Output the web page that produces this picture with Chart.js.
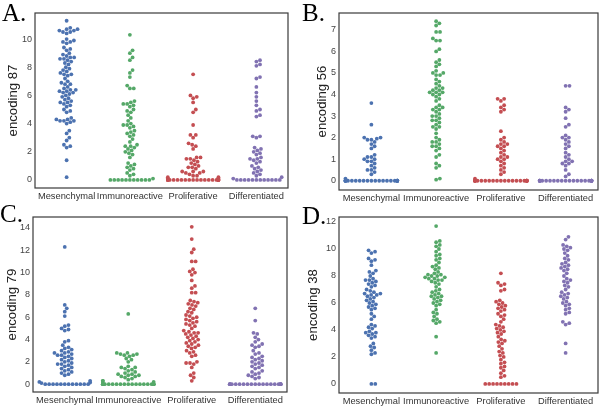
<!DOCTYPE html>
<html>
<head>
<meta charset="utf-8">
<script src="https://cdn.jsdelivr.net/npm/chart.js@4.4.0/dist/chart.umd.min.js"></script>
<style>
  body { margin: 0; background: #fff; width: 600px; height: 407px; position: relative; overflow: hidden; }
  canvas { position: absolute; }
  .tag { position: absolute; z-index: 2; font-family: "Liberation Serif", "DejaVu Serif", serif; font-size: 25px; line-height: 25px; color: #000; }
</style>
</head>
<body>
<canvas id="cA" width="300" height="204" style="left:0px;top:0px"></canvas>
<canvas id="cB" width="300" height="204" style="left:300px;top:0px"></canvas>
<canvas id="cC" width="300" height="203" style="left:0px;top:204px"></canvas>
<canvas id="cD" width="300" height="203" style="left:300px;top:204px"></canvas>
<div class="tag" style="left:2px;top:0px">A.</div>
<div class="tag" style="left:302px;top:0px">B.</div>
<div class="tag" style="left:0px;top:201px">C.</div>
<div class="tag" style="left:302px;top:203px">D.</div>
<script>
"use strict"

const categories = ["Mesenchymal", "Immunoreactive", "Proliferative", "Differentiated"]
const colors = ["#4c72b0", "#55a868", "#c44e52", "#8172b2"]

// panel A - encoding 87
const aMes = [11.3, 10.8, 10.7, 10.7, 10.6, 10.6, 10.5, 10.5, 10.4, 10.0, 9.9, 9.8, 9.8, 9.7, 9.4, 9.3, 9.2, 9.0, 8.9, 8.8, 8.7, 8.7, 8.6, 8.6, 8.5, 8.4, 8.3, 8.2, 8.0, 7.9, 7.8, 7.7, 7.6, 7.5, 7.5, 7.4, 7.2, 7.0, 6.9, 6.8, 6.8, 6.6, 6.5, 6.4, 6.4, 6.3, 6.3, 6.2, 6.2, 6.1, 6.0, 5.9, 5.8, 5.7, 5.6, 5.5, 5.5, 5.4, 5.3, 5.2, 5.0, 4.9, 4.8, 4.4, 4.3, 4.3, 4.2, 4.2, 4.2, 4.1, 4.0, 3.5, 3.3, 3.0, 2.8, 2.5, 2.4, 2.3, 1.4, 0.2]
const aImm = [10.3, 9.2, 9.0, 8.7, 8.5, 7.8, 7.6, 7.3, 6.7, 6.5, 6.5, 5.6, 5.5, 5.4, 5.4, 5.3, 5.2, 5.0, 4.9, 4.8, 4.6, 4.4, 4.2, 4.0, 3.9, 3.9, 3.8, 3.7, 3.5, 3.4, 3.3, 3.2, 3.1, 2.9, 2.7, 2.5, 2.4, 2.4, 2.3, 2.2, 2.1, 2.0, 1.9, 1.8, 1.6, 1.2, 1.1, 1.0, 0.9, 0.8, 0.7, 0.5, 0.4, 0.3, 0.1, 0, 0, 0, 0, 0, 0, 0, 0, 0, 0, 0]
const aPro = [7.5, 6.0, 5.9, 5.8, 5.5, 5.0, 4.8, 3.9, 3.2, 3.2, 3.0, 2.6, 2.5, 2.4, 2.2, 1.6, 1.6, 1.5, 1.5, 1.4, 1.3, 1.2, 1.1, 1.0, 0.9, 0.9, 0.8, 0.6, 0.6, 0.6, 0.5, 0.5, 0.4, 0.3, 0.3, 0.2, 0.2, 0.1, 0.1, 0, 0, 0, 0, 0, 0, 0, 0, 0, 0, 0, 0, 0, 0, 0, 0, 0, 0, 0, 0]
const aDif = [8.5, 8.4, 8.2, 8.1, 7.3, 7.2, 6.6, 6.2, 5.9, 5.6, 5.3, 5.0, 4.9, 4.6, 4.5, 3.1, 3.1, 3.0, 2.3, 2.2, 2.1, 2.0, 1.9, 1.8, 1.6, 1.5, 1.5, 1.4, 1.3, 1.2, 1.0, 0.9, 0.8, 0.7, 0.6, 0.5, 0.4, 0.3, 0.2, 0.1, 0, 0, 0, 0, 0, 0, 0, 0, 0, 0, 0, 0]
const aTicks = [0, 2, 4, 6, 8, 10]

// panel B - encoding 56
const bMes = [3.6, 2.6, 2.0, 2.0, 1.95, 1.9, 1.9, 1.8, 1.7, 1.6, 1.5, 1.2, 1.1, 1.1, 1.0, 1.0, 0.9, 0.9, 0.8, 0.7, 0.6, 0.5, 0.5, 0.4, 0.3, 0.1, 0, 0, 0, 0, 0, 0, 0, 0, 0, 0, 0, 0, 0, 0, 0, 0, 0, 0, 0, 0, 0, 0]
const bImm = [7.4, 7.3, 7.2, 6.9, 6.9, 6.6, 6.5, 6.5, 6.1, 6.0, 5.6, 5.5, 5.4, 5.3, 5.1, 5.0, 5.0, 4.9, 4.9, 4.7, 4.6, 4.5, 4.4, 4.3, 4.3, 4.2, 4.2, 4.1, 4.1, 4.1, 4.0, 4.0, 3.9, 3.8, 3.7, 3.5, 3.4, 3.4, 3.3, 3.3, 3.2, 3.1, 3.0, 3.0, 2.9, 2.8, 2.8, 2.7, 2.6, 2.5, 2.5, 2.4, 2.2, 2.0, 1.9, 1.8, 1.8, 1.7, 1.6, 1.6, 1.5, 1.4, 1.2, 1.1, 0.8, 0.7, 0.6, 0.1, 0.05]
const bPro = [3.8, 3.8, 3.7, 3.5, 3.4, 3.3, 3.2, 2.3, 2.0, 1.9, 1.8, 1.7, 1.7, 1.6, 1.6, 1.5, 1.4, 1.3, 1.2, 1.1, 1.1, 1.0, 1.0, 0.9, 0.8, 0.7, 0.6, 0.5, 0.4, 0.3, 0.1, 0, 0, 0, 0, 0, 0, 0, 0, 0, 0, 0, 0, 0, 0, 0, 0, 0, 0, 0, 0, 0, 0]
const bDif = [4.4, 4.4, 3.4, 3.3, 3.2, 2.9, 2.6, 2.5, 2.1, 2.0, 2.0, 1.9, 1.8, 1.7, 1.6, 1.5, 1.3, 1.2, 1.1, 1.0, 0.9, 0.9, 0.8, 0.8, 0.7, 0.5, 0.3, 0.2, 0, 0, 0, 0, 0, 0, 0, 0, 0, 0, 0, 0, 0, 0, 0, 0, 0, 0, 0, 0, 0, 0]
const bTicks = [0, 1, 2, 3, 4, 5, 6, 7]

// panel C - encoding 79
const cMes = [12.3, 7.1, 6.8, 6.5, 6.1, 5.3, 5.2, 5.0, 4.9, 4.8, 3.9, 3.8, 3.5, 3.3, 3.2, 3.1, 3.0, 2.9, 2.8, 2.8, 2.7, 2.6, 2.6, 2.5, 2.4, 2.3, 2.2, 2.1, 2.0, 1.9, 1.8, 1.8, 1.7, 1.6, 1.5, 1.4, 1.3, 1.2, 1.1, 1.0, 0.9, 0.8, 0.3, 0.2, 0.15, 0.1, 0, 0, 0, 0, 0, 0, 0, 0, 0, 0, 0, 0]
const cImm = [6.3, 2.8, 2.8, 2.7, 2.7, 2.6, 2.6, 2.5, 2.3, 2.2, 2.0, 1.6, 1.5, 1.5, 1.4, 1.3, 1.2, 1.1, 1.0, 0.9, 0.9, 0.8, 0.8, 0.7, 0.7, 0.6, 0.5, 0.4, 0.3, 0.3, 0.2, 0.1, 0, 0, 0, 0, 0, 0, 0, 0, 0, 0, 0, 0, 0, 0, 0, 0, 0, 0, 0, 0]
const cPro = [14.1, 13.0, 12.1, 11.8, 11.0, 11.0, 10.3, 10.1, 10.0, 9.8, 9.3, 8.8, 8.6, 8.2, 8.2, 7.5, 7.4, 7.3, 7.2, 7.1, 7.0, 6.8, 6.7, 6.5, 6.4, 6.2, 6.1, 6.0, 5.9, 5.8, 5.7, 5.6, 5.5, 5.4, 5.3, 5.2, 5.0, 4.8, 4.7, 4.6, 4.6, 4.5, 4.4, 4.3, 4.2, 4.1, 4.0, 3.9, 3.8, 3.7, 3.6, 3.5, 3.4, 3.3, 3.2, 3.0, 2.9, 2.8, 2.6, 2.5, 2.0, 1.9, 1.9, 1.8, 1.5, 1.0, 0.8, 0.6, 0.3]
const cDif = [6.8, 5.7, 4.6, 4.5, 4.2, 4.0, 3.8, 3.6, 3.5, 3.4, 3.3, 3.0, 2.8, 2.7, 2.5, 2.4, 2.3, 2.2, 2.1, 2.0, 1.9, 1.8, 1.7, 1.6, 1.5, 1.4, 1.2, 1.1, 1.0, 0.9, 0.8, 0.7, 0.6, 0.5, 0, 0, 0, 0, 0, 0, 0, 0, 0, 0, 0, 0, 0, 0, 0, 0, 0, 0, 0, 0]
const cTicks = [0, 2, 4, 6, 8, 10, 12, 14]

// panel D - encoding 38
const dMes = [9.9, 9.8, 9.7, 9.3, 9.2, 9.1, 8.8, 8.4, 8.3, 8.2, 8.0, 7.8, 7.7, 7.7, 7.6, 7.5, 7.4, 7.3, 7.2, 7.0, 6.9, 6.8, 6.7, 6.7, 6.6, 6.6, 6.5, 6.4, 6.3, 6.2, 6.1, 6.0, 5.9, 5.8, 5.7, 5.6, 5.5, 5.2, 5.0, 4.8, 4.4, 4.3, 4.2, 4.1, 3.9, 3.8, 3.8, 3.7, 3.6, 3.5, 3.4, 3.0, 2.8, 2.7, 2.5, 2.3, 2.2, 0, 0]
const dImm = [11.7, 10.6, 10.5, 10.3, 10.2, 10.0, 9.8, 9.6, 9.5, 9.3, 9.2, 9.0, 8.8, 8.7, 8.6, 8.5, 8.3, 8.2, 8.1, 8.1, 8.0, 8.0, 7.9, 7.9, 7.8, 7.8, 7.7, 7.7, 7.6, 7.5, 7.4, 7.2, 7.0, 6.9, 6.8, 6.7, 6.6, 6.5, 6.5, 6.4, 6.3, 6.2, 6.1, 6.0, 5.9, 5.8, 5.5, 5.3, 5.2, 5.0, 4.8, 4.7, 4.6, 4.5, 3.5, 2.3]
const dPro = [8.2, 7.5, 7.4, 7.3, 7.0, 6.9, 6.2, 6.1, 6.0, 5.9, 5.8, 5.7, 5.6, 5.5, 5.4, 5.2, 5.1, 5.0, 4.8, 4.6, 4.4, 4.3, 4.2, 4.1, 4.0, 3.9, 3.8, 3.7, 3.5, 3.3, 3.2, 3.1, 3.0, 2.8, 2.6, 2.4, 2.3, 2.1, 2.0, 1.8, 1.6, 1.5, 1.3, 1.2, 1.0, 0.8, 0.6, 0.5, 0, 0, 0, 0, 0, 0, 0, 0, 0]
const dDif = [10.9, 10.7, 10.3, 10.2, 10.1, 10.0, 9.9, 9.7, 9.5, 9.3, 9.2, 9.0, 8.9, 8.8, 8.7, 8.6, 8.5, 8.4, 8.2, 8.0, 7.8, 7.7, 7.6, 7.5, 7.3, 7.2, 7.0, 6.8, 6.7, 6.6, 6.5, 6.4, 6.3, 6.1, 6.0, 5.9, 5.8, 5.6, 5.5, 5.3, 5.2, 4.6, 4.5, 4.4, 3.0, 2.3]
const dTicks = [0, 2, 4, 6, 8, 10, 12]

const DOT = 1.9      // point radius
const GAP = 3.9      // distance between swarm centres

// pixel box of each panel: y axis width, right pad, top pad, x axis height
const panels = [
    {id: "cA", title: "encoding 87", groups: [aMes, aImm, aPro, aDif], ticks: aTicks, min: -0.57, max: 11.85, yW: 35, padR: 12, padT: 13, xH: 16, tPad: 5},
    {id: "cB", title: "encoding 56", groups: [bMes, bImm, bPro, bDif], ticks: bTicks, min: -0.43, max: 7.78, yW: 39, padR: 2, padT: 13, xH: 14, tPad: 14},
    {id: "cC", title: "encoding 79", groups: [cMes, cImm, cPro, cDif], ticks: cTicks, min: -0.7, max: 14.98, yW: 33, padR: 13, padT: 13, xH: 15, tPad: 4.5},
    {id: "cD", title: "encoding 38", groups: [dMes, dImm, dPro, dDif], ticks: dTicks, min: -0.67, max: 12.37, yW: 39, padR: 2, padT: 13, xH: 14, tPad: 5},
]

// beeswarm: place lowest values first, nearest free slot to the centre
function swarm(py, d){
    const order = py.map((y, i) => i).sort((a, b) => py[b] - py[a])
    const placed = []
    const out = new Array(py.length)
    for (const i of order){
        const y = py[i]
        const near = placed.filter(p => Math.abs(p.y - y) < d)
        const cands = [0]
        for (const p of near){
            const dx = Math.sqrt(d * d - (p.y - y) * (p.y - y))
            cands.push(p.x + dx, p.x - dx)
        }
        cands.sort((a, b) => Math.abs(a) - Math.abs(b))
        let x = cands.find(c => near.every(p => (p.x - c) * (p.x - c) + (p.y - y) * (p.y - y) >= d * d - 0.01))
        if (x === undefined) x = 0
        placed.push({x: x, y: y})
        out[i] = x
    }
    return out
}

const framePlugin = {
    id: "frame",
    beforeDatasetsDraw(chart){
        const a = chart.chartArea
        const ctx = chart.ctx
        ctx.save()
        ctx.strokeStyle = "#3a3a3a"
        ctx.lineWidth = 1.2
        ctx.strokeRect(a.left, a.top, a.right - a.left, a.bottom - a.top)
        ctx.restore()
    }
}

function makePanel(p){
    const datasets = p.groups.map((g, k) => ({
        data: g.map(v => ({x: k, y: v})),
        backgroundColor: colors[k],
        borderWidth: 0,
        pointRadius: DOT,
        pointHoverRadius: DOT,
    }))
    const config = {
        type: "scatter",
        data: {datasets: datasets},
        options: {
            responsive: false,
            animation: false,
            layout: {padding: {top: p.padT, right: p.padR, left: 0, bottom: 0}},
            plugins: {legend: {display: false}, tooltip: {enabled: false}},
            scales: {
                x: {
                    type: "linear", min: -0.5, max: 3.5,
                    grid: {display: false, drawTicks: false},
                    border: {display: false},
                    afterBuildTicks: s => { s.ticks = categories.map((c, i) => ({value: i})) },
                    afterFit: s => { s.height = p.xH },
                    ticks: {
                        autoSkip: false, maxRotation: 0, padding: 3,
                        color: "#333", font: {family: "'Liberation Sans', Arial, sans-serif", size: 9.3},
                        callback: v => categories[v]
                    }
                },
                y: {
                    min: p.min, max: p.max,
                    grid: {display: false, drawTicks: false},
                    border: {display: false},
                    afterBuildTicks: s => { s.ticks = p.ticks.map(v => ({value: v})) },
                    afterFit: s => { s.width = p.yW },
                    ticks: {padding: 3, color: "#444", font: {family: "'Liberation Sans', Arial, sans-serif", size: 9}},
                    title: {
                        display: true, text: p.title, color: "#222",
                        padding: {top: p.tPad, bottom: 0},
                        font: {family: "'Liberation Sans', Arial, sans-serif", size: 13.2}
                    }
                }
            }
        },
        plugins: [framePlugin]
    }
    const chart = new Chart(document.getElementById(p.id), config)

    // spread points sideways once the scales know their pixels
    const xs = chart.scales.x
    const ys = chart.scales.y
    const unit = xs.getPixelForValue(1) - xs.getPixelForValue(0)
    const gutter = unit * 0.4
    chart.data.datasets.forEach((ds, k) => {
        const g = p.groups[k]
        const off = swarm(g.map(v => ys.getPixelForValue(v)), GAP)
        ds.data = g.map((v, i) => ({x: k + Math.max(-gutter, Math.min(gutter, off[i])) / unit, y: v}))
    })
    chart.update("none")
}

panels.forEach(makePanel)
</script>
</body>
</html>
